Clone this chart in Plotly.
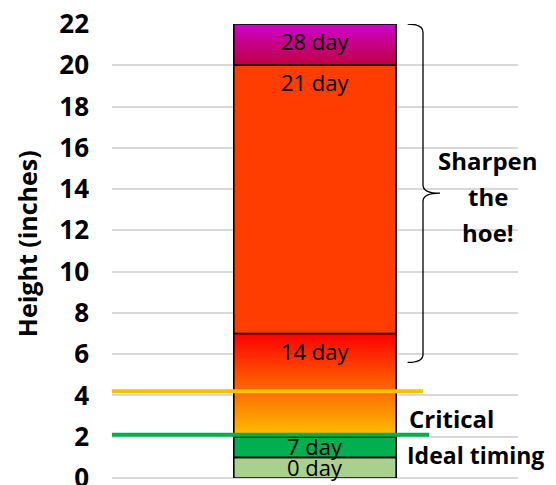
import numpy as np
import plotly.graph_objects as go

# ---- data ----
segments = ["0 day", "7 day", "14 day", "21 day", "28 day"]
seg_bottom = [0, 1, 2, 7, 20]
seg_top = [1, 2, 7, 20, 22]
seg_colors = ["#A9D18E", "#00B050", None, "#FF3D00", None]  # None -> gradient fill
gradients = {"14 day": ("#FFC000", "#FF0000"), "28 day": ("#C00040", "#CC00CC")}

critical_level = 4.2
ideal_level = 2.1
brace_top, brace_tip, brace_bottom = 22, 13.8, 5.6
brace_note = ["Sharpen", "the", "hoe!"]

y_ticks = list(range(0, 23, 2))

FONT = "Open Sans"
BAR_W = 0.40
fig = go.Figure()

# gradient fills (drawn beneath the outlined bar)
for name, (c0, c1) in gradients.items():
    i = segments.index(name)
    lo, hi = seg_bottom[i], seg_top[i]
    edges = np.linspace(lo, hi, 61)
    centers = (edges[:-1] + edges[1:]) / 2
    fig.add_trace(go.Heatmap(
        x=[-BAR_W / 2, BAR_W / 2], y=edges, z=[[c] for c in centers],
        zmin=lo, zmax=hi, colorscale=[[0, c0], [1, c1]],
        showscale=False, hoverinfo="skip"))

heights = [t - b for b, t in zip(seg_bottom, seg_top)]
fig.add_trace(go.Bar(
    x=[0] * len(segments), y=heights, base=seg_bottom, width=BAR_W,
    marker=dict(color=[c if c else "rgba(0,0,0,0)" for c in seg_colors],
                line=dict(color="black", width=1.6)),
    showlegend=False, hoverinfo="skip"))

# segment labels: at the inside top, or centred when the segment is too thin
for name, b, t in zip(segments, seg_bottom, seg_top):
    if t - b >= 2:
        fig.add_annotation(x=0, y=t, xref="x", yref="y", text=name, showarrow=False,
                           yanchor="top", yshift=0,
                           font=dict(family=FONT, size=22, color="black"))
    else:
        fig.add_annotation(x=0, y=(b + t) / 2, xref="x", yref="y", text=name,
                           showarrow=False, yanchor="middle", yshift=1,
                           font=dict(family=FONT, size=22, color="black"))

# threshold lines
fig.add_trace(go.Scatter(x=[-0.5, 0.266], y=[critical_level] * 2, mode="lines",
                         line=dict(color="#FFC000", width=4), showlegend=False,
                         hoverinfo="skip", cliponaxis=False))
fig.add_trace(go.Scatter(x=[-0.5, 0.281], y=[ideal_level] * 2, mode="lines",
                         line=dict(color="#00B050", width=4), showlegend=False,
                         hoverinfo="skip", cliponaxis=False))

# curly brace
x0, x1, x2 = 0.228, 0.266, 0.308
d = 0.4
path = (f"M {x0},{brace_top} Q {x1},{brace_top} {x1},{brace_top - d} "
        f"L {x1},{brace_tip + d} Q {x1},{brace_tip} {x2},{brace_tip} "
        f"Q {x1},{brace_tip} {x1},{brace_tip - d} "
        f"L {x1},{brace_bottom + d} Q {x1},{brace_bottom} {x0},{brace_bottom}")
fig.add_shape(type="path", path=path, xref="x", yref="y",
              line=dict(color="black", width=1.3))

bold = dict(family=FONT, size=24, color="black", weight="bold")
for k, line in enumerate(brace_note):
    fig.add_annotation(x=0.426, y=15.4 - 1.75 * k, xref="x", yref="y", text=line,
                       showarrow=False, font=bold, align="center")
fig.add_annotation(x=0.226, y=2.9, xref="x", yref="y", text="Critical",
                   showarrow=False, font=bold, xanchor="left")
fig.add_annotation(x=0.222, y=1.1, xref="x", yref="y", text="Ideal timing",
                   showarrow=False, font=dict(bold, size=23), xanchor="left")
fig.add_annotation(x=-85 / 406, y=0.515, xref="paper", yref="paper",
                   xanchor="center", yanchor="middle",
                   text="Height (inches)", textangle=-90, showarrow=False,
                   font=dict(family=FONT, size=25, color="black", weight="bold"))

fig.update_layout(
    width=548, height=477,
    margin=dict(l=104, r=38, t=16, b=7, autoexpand=False),
    paper_bgcolor="white", plot_bgcolor="white",
    barmode="overlay",
    xaxis=dict(range=[-0.5, 0.5], showticklabels=False, showgrid=False,
               zeroline=False, fixedrange=True, automargin=False),
    yaxis=dict(range=[0, 22], tickvals=y_ticks, showgrid=True,
               gridcolor="#D9D9D9", gridwidth=1.5, zeroline=True,
               zerolinecolor="#D9D9D9", zerolinewidth=1.5, automargin=False,
               tickfont=dict(family=FONT, size=26, color="black", weight="bold"),
               ticklabelstandoff=22, ticklabeloverflow="allow"),
)

fig.write_html("out.html")
